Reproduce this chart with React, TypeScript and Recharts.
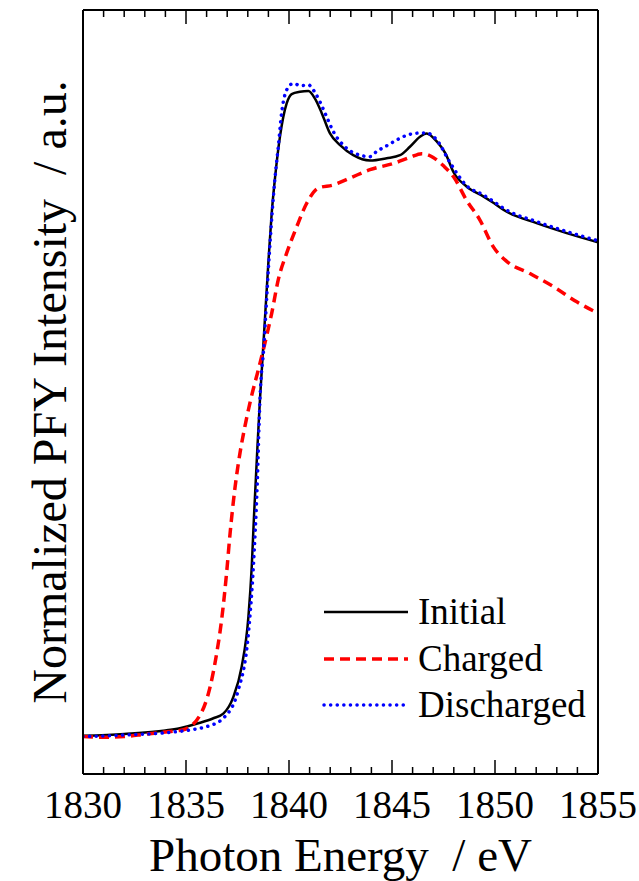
import React from "react";
import { LineChart, Line, XAxis, YAxis } from "recharts";

// photon energy (eV) and normalized PFY intensity
const initialE = [
  1830, 1832, 1834, 1834.7, 1835.68, 1836.33, 1836.81, 1837.3, 1837.7, 1838.03,
  1838.19, 1838.3, 1838.46, 1838.59, 1838.75, 1839.0, 1839.16, 1839.32,
  1839.56, 1839.89, 1840.13, 1840.53, 1840.94, 1841.26, 1841.59, 1841.99,
  1842.48, 1843.12, 1843.93, 1844.74, 1845.39, 1845.87, 1846.36, 1846.68,
  1847.17, 1847.6, 1847.98, 1848.62, 1849.43, 1849.84, 1850.57, 1852.02,
  1853.48, 1855,
];
const initialY = [
  5.0, 5.25, 5.7, 6.0, 6.7, 7.3, 7.9, 10.1, 14.0, 20.6, 27.1, 33.7, 42.4, 49.0,
  55.9, 67.0, 73.4, 78.0, 83.4, 87.8, 89.0, 89.3, 89.4, 88.4, 86.5, 83.85, 82.3,
  81.0, 80.3, 80.6, 81.0, 82.1, 83.4, 83.85, 82.8, 81.2, 78.8, 76.9, 75.6, 74.9,
  73.6, 72.1, 70.8, 69.6,
];

const chargedE = [
  1830, 1831, 1832, 1833, 1834, 1834.87, 1835.68, 1836.17, 1836.49, 1836.73,
  1836.97, 1837.14, 1837.38, 1837.62, 1837.86, 1838.14, 1838.5, 1838.75,
  1839.16, 1839.48, 1839.89, 1840.37, 1840.86, 1841.42, 1842.15, 1842.96,
  1843.93, 1845.06, 1845.87, 1846.44, 1847.0, 1847.5, 1847.98, 1848.62,
  1849.27, 1849.92, 1850.57, 1851.7, 1852.83, 1853.97, 1855,
];
const chargedY = [
  4.9, 4.8, 4.9, 5.2, 5.5, 5.8, 7.7, 11.4, 15.8, 20.2, 26.3, 31.5, 37.5, 42.0,
  45.5, 49.0, 52.8, 55.5, 60.3, 64.7, 68.2, 71.6, 74.7, 76.7, 77.1, 78.0, 79.1,
  79.9, 80.7, 81.2, 80.7, 79.6, 78.2, 75.1, 72.5, 69.0, 67.1, 65.5, 63.8, 61.8,
  60.3,
];

const dischargedE = [
  1830, 1832, 1834, 1835.5, 1836.0, 1836.81, 1837.54, 1838.03, 1838.27,
  1838.46, 1838.59, 1838.78, 1839.02, 1839.18, 1839.32, 1839.48, 1839.64,
  1839.8, 1839.97, 1840.21, 1840.56, 1840.94, 1841.26, 1841.5, 1841.83,
  1842.15, 1842.8, 1843.45, 1843.93, 1844.26, 1844.66, 1845.31, 1845.71,
  1846.36, 1846.68, 1847.17, 1847.82, 1848.62, 1849.43, 1849.84, 1850.57,
  1852.02, 1853.48, 1855,
];
const dischargedY = [
  4.9, 5.1, 5.4, 5.9, 6.2, 7.3, 11.0, 18.4, 27.1, 38.0, 49.0, 56.0, 67.0, 73.4,
  78.0, 82.1, 86.5, 88.9, 89.9, 90.4, 90.1, 90.2, 89.2, 88.0, 86.0, 84.1, 81.9,
  81.0, 80.8, 81.5, 82.1, 83.1, 83.6, 83.9, 83.9, 83.0, 80.0, 77.0, 75.8, 75.1,
  73.8, 72.3, 71.0, 69.8,
];

const energyTicks = Array.from({ length: 26 }, (_, i) => 1830 + i);

const toRows = (xs: number[], ys: number[]) =>
  xs.map((e, i) => ({ e, v: ys[i] }));

const FONT = "'Liberation Serif', 'Times New Roman', serif";
const NB = "\u00A0";

const BottomTick = (props: any) => {
  const { x, y, payload } = props;
  const major = payload.value % 5 === 0;
  return (
    <g>
      <line x1={x} x2={x} y1={y} y2={y - (major ? 14 : 7)} stroke="#000" strokeWidth={1.5} />
      {major && (
        <text x={x} y={y + 44} textAnchor="middle" fontSize={39} fontFamily={FONT} fill="#000">
          {payload.value}
        </text>
      )}
    </g>
  );
};

const TopTick = (props: any) => {
  const { x, y, payload } = props;
  const major = payload.value % 5 === 0;
  return (
    <line x1={x} x2={x} y1={y} y2={y + (major ? 14 : 7)} stroke="#000" strokeWidth={1.5} />
  );
};

const legendItems = [
  { name: "Initial", color: "#000", width: 2.5, dash: undefined, cap: "butt" },
  { name: "Charged", color: "#ff0000", width: 3.5, dash: "10 6", cap: "butt" },
  { name: "Discharged", color: "#0000ff", width: 3.5, dash: "0.1 6.5", cap: "round" },
];

export default function App() {
  return (
    <div style={{ position: "absolute", left: 0, top: 0, width: 639, height: 881, background: "#fff" }}>
      <LineChart width={639} height={881} margin={{ top: 0, right: 0, bottom: 0, left: 0 }}>
        <XAxis
          xAxisId="b"
          dataKey="e"
          type="number"
          domain={[1830, 1855]}
          ticks={energyTicks}
          interval={0}
          height={107}
          tickSize={0}
          tickMargin={0}
          tickLine={false}
          tick={<BottomTick />}
          axisLine={{ stroke: "#000", strokeWidth: 2 }}
          allowDataOverflow
          label={{
            value: `Photon Energy${NB}${NB}/ eV`,
            position: "insideBottom",
            offset: 10,
            fontSize: 47,
            fontFamily: FONT,
            fill: "#000",
          }}
        />
        <XAxis
          xAxisId="t"
          orientation="top"
          dataKey="e"
          type="number"
          domain={[1830, 1855]}
          ticks={energyTicks}
          interval={0}
          height={10}
          tickSize={0}
          tickMargin={0}
          tickLine={false}
          tick={<TopTick />}
          axisLine={{ stroke: "#000", strokeWidth: 2 }}
          allowDataOverflow
        />
        <YAxis
          yAxisId="l"
          type="number"
          domain={[0, 100]}
          width={83}
          tick={false}
          tickLine={false}
          axisLine={{ stroke: "#000", strokeWidth: 2 }}
          label={{
            value: `Normalized PFY Intensity${NB}${NB}/ a.u.`,
            angle: -90,
            position: "center",
            dx: 7,
            dy: 0,
            fontSize: 48,
            fontFamily: FONT,
            fill: "#000",
          }}
        />
        <YAxis
          yAxisId="r"
          orientation="right"
          type="number"
          domain={[0, 100]}
          width={41}
          tick={false}
          tickLine={false}
          axisLine={{ stroke: "#000", strokeWidth: 2 }}
        />
        <Line
          xAxisId="b"
          yAxisId="l"
          data={toRows(initialE, initialY)}
          dataKey="v"
          type="monotone"
          stroke="#000"
          strokeWidth={2.5}
          dot={false}
          isAnimationActive={false}
        />
        <Line
          xAxisId="b"
          yAxisId="l"
          data={toRows(chargedE, chargedY)}
          dataKey="v"
          type="monotone"
          stroke="#ff0000"
          strokeWidth={3.5}
          strokeDasharray="10 6"
          dot={false}
          isAnimationActive={false}
        />
        <Line
          xAxisId="b"
          yAxisId="l"
          data={toRows(dischargedE, dischargedY)}
          dataKey="v"
          type="monotone"
          stroke="#0000ff"
          strokeWidth={3.5}
          strokeDasharray="0.1 6.5"
          strokeLinecap="round"
          dot={false}
          isAnimationActive={false}
        />
      </LineChart>
      <div style={{ position: "absolute", left: 322, top: 589 }}>
        {legendItems.map((it) => (
          <div key={it.name} style={{ display: "flex", alignItems: "center", height: 46.5 }}>
            <svg width={96} height={20}>
              <line
                x1={2}
                x2={86}
                y1={10}
                y2={10}
                stroke={it.color}
                strokeWidth={it.width}
                strokeDasharray={it.dash}
                strokeLinecap={it.cap as any}
              />
            </svg>
            <span style={{ fontFamily: FONT, fontSize: 37, color: "#000", lineHeight: "46px" }}>
              {it.name}
            </span>
          </div>
        ))}
      </div>
    </div>
  );
}
